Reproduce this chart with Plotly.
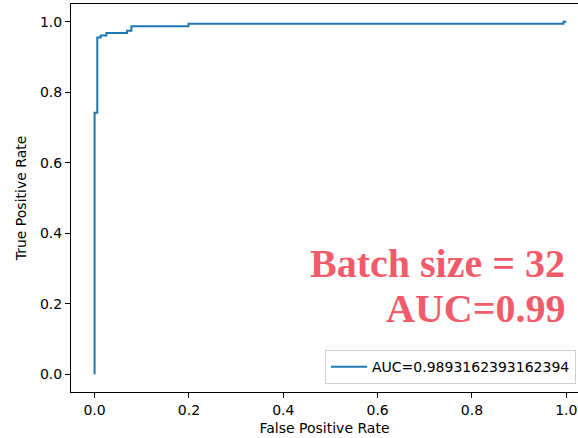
import plotly.graph_objects as go

# ROC curve step points
fpr = [0.0, 0.0, 0.0057, 0.0057, 0.013, 0.013, 0.025, 0.025, 0.069, 0.069,
       0.078, 0.078, 0.199, 0.199, 0.994, 0.994, 1.0]
tpr = [0.0, 0.742, 0.742, 0.955, 0.955, 0.961, 0.961, 0.968, 0.968, 0.974,
       0.974, 0.987, 0.987, 0.994, 0.994, 1.0, 1.0]
legend_label = "AUC=0.9893162393162394"
title_lines = ["Batch size = 32", "AUC=0.99"]
tick_vals = [0.0, 0.2, 0.4, 0.6, 0.8, 1.0]
tick_text = ["0.0", "0.2", "0.4", "0.6", "0.8", "1.0"]

font = dict(family="DejaVu Sans", size=14, color="#000000")

fig = go.Figure()
fig.add_trace(go.Scatter(x=fpr, y=tpr, mode="lines", name=legend_label,
                         line=dict(color="#1f77b4", width=2), showlegend=True))

fig.update_layout(
    width=578, height=438,
    margin=dict(l=71, r=0, t=4, b=46, autoexpand=False),
    plot_bgcolor="white", paper_bgcolor="white",
    font=font,
    showlegend=True,
    legend=dict(x=0.501, y=0.02, xanchor="left", yanchor="bottom",
                bgcolor="rgba(255,255,255,0.8)", bordercolor="#d0d0d0", borderwidth=1,
                font=dict(family="DejaVu Sans", size=14, color="#000000"),
                itemwidth=36),
    xaxis=dict(range=[-0.05, 1.0248], tickvals=tick_vals, ticktext=tick_text,
               showgrid=False, zeroline=False, showline=True, linecolor="black",
               linewidth=1, mirror=True, ticks="outside", ticklen=5, tickcolor="black",
               title=dict(text="False Positive Rate", standoff=6, font=font)),
    yaxis=dict(range=[-0.05, 1.05], tickvals=tick_vals, ticktext=tick_text,
               showgrid=False, zeroline=False, showline=True, linecolor="black",
               linewidth=1, mirror=False, ticks="outside", ticklen=5, tickcolor="black",
               title=dict(text="True Positive Rate", standoff=10, font=font)),
)

title_font = dict(family="Liberation Serif", size=40, color="#f25c6a")
fig.add_annotation(text="<b>" + title_lines[0] + "</b>", xref="paper", yref="paper",
                   x=0.977, y=(392 - 287) / 388, xanchor="right", yanchor="bottom",
                   showarrow=False, font=title_font, borderpad=0)
fig.add_annotation(text="<b>" + title_lines[1] + "</b>", xref="paper", yref="paper",
                   x=0.977, y=(392 - 332) / 388, xanchor="right", yanchor="bottom",
                   showarrow=False, font=title_font, borderpad=0)

fig.write_html("out.html")
